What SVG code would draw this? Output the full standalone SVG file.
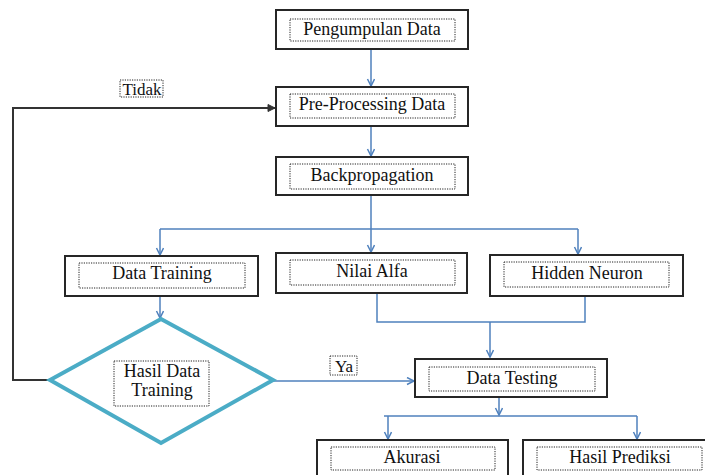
<svg xmlns="http://www.w3.org/2000/svg" width="705" height="475" viewBox="0 0 705 475">
<style>
.box{fill:#fff;stroke:#262626;stroke-width:2}
.dot{fill:none;stroke:#222;stroke-width:1;stroke-dasharray:1.2 1.2}
.blue{fill:none;stroke:#4f81bd;stroke-width:1.5}
.dark{fill:none;stroke:#333;stroke-width:2}
</style>
<defs>
<marker id="ab" markerUnits="userSpaceOnUse" markerWidth="10" markerHeight="10" refX="8" refY="4" orient="auto">
<path d="M1,0.5 L8,4 L1,7.5" fill="none" stroke="#4f81bd" stroke-width="1.5"/>
</marker>
<marker id="ad" markerUnits="userSpaceOnUse" markerWidth="10" markerHeight="10" refX="8" refY="4" orient="auto">
<path d="M1,0.5 L8,4 L1,7.5 Z" fill="#333" stroke="#333" stroke-width="1"/>
</marker>
</defs>
<rect width="705" height="475" fill="#fff"/>
<g id="connectors">
<line class="blue" x1="371" y1="49" x2="371" y2="86" marker-end="url(#ab)"/>
<line class="blue" x1="371" y1="126" x2="371" y2="156" marker-end="url(#ab)"/>
<line class="blue" x1="371" y1="195" x2="371" y2="252" marker-end="url(#ab)"/>
<line class="blue" x1="160" y1="229" x2="578" y2="229"/>
<line class="blue" x1="160" y1="229" x2="160" y2="255" marker-end="url(#ab)"/>
<line class="blue" x1="578" y1="229" x2="578" y2="254" marker-end="url(#ab)"/>
<line class="blue" x1="160" y1="296" x2="160" y2="318" marker-end="url(#ab)"/>
<path class="dark" d="M50,380 H13 V108 H275" marker-end="url(#ad)"/>
<line class="blue" x1="273" y1="381" x2="414" y2="381" marker-end="url(#ab)"/>
<path class="blue" d="M377,293 V322 H585 V296"/>
<line class="blue" x1="490" y1="322" x2="490" y2="357" marker-end="url(#ab)"/>
<line class="blue" x1="499" y1="397" x2="499" y2="415" marker-end="url(#ab)"/>
<line class="blue" x1="384" y1="416" x2="637" y2="416"/>
<line class="blue" x1="388" y1="416" x2="388" y2="439" marker-end="url(#ab)"/>
<line class="blue" x1="637" y1="416" x2="637" y2="439" marker-end="url(#ab)"/>
</g>
<g font-family="'Liberation Serif', serif" font-size="18" fill="#111" text-anchor="middle">
<g id="pengumpulan">
<rect class="box" x="276" y="10" width="192" height="39"/>
<rect class="dot" x="290" y="19" width="165" height="22"/>
<text x="372" y="35">Pengumpulan Data</text>
</g>
<g id="preprocessing">
<rect class="box" x="276" y="87" width="192" height="39"/>
<rect class="dot" x="290" y="94" width="165" height="24"/>
<text x="372" y="110">Pre-Processing Data</text>
</g>
<g id="backpropagation">
<rect class="box" x="276" y="157" width="192" height="38"/>
<rect class="dot" x="290" y="164" width="165" height="25"/>
<text x="372" y="181">Backpropagation</text>
</g>
<g id="datatraining">
<rect class="box" x="65" y="256" width="193" height="40"/>
<rect class="dot" x="79" y="263" width="166" height="25"/>
<text x="162" y="279">Data Training</text>
</g>
<g id="nilaialfa">
<rect class="box" x="276" y="253" width="191" height="40"/>
<rect class="dot" x="290" y="260" width="165" height="25"/>
<text x="372" y="277">Nilai Alfa</text>
</g>
<g id="hiddenneuron">
<rect class="box" x="490" y="255" width="193" height="41"/>
<rect class="dot" x="504" y="262" width="165" height="25"/>
<text x="587" y="279">Hidden Neuron</text>
</g>
<g id="hasildatatraining">
<polygon points="161,319 273,380 161,443 50,380" fill="#fff" stroke="#4bacc6" stroke-width="4"/>
<rect class="dot" x="114" y="361" width="95" height="45"/>
<text x="162" y="377">Hasil Data</text>
<text x="162" y="396">Training</text>
</g>
<g id="tidak">
<rect class="dot" x="120" y="80" width="43" height="17"/>
<text x="142" y="95" font-size="17">Tidak</text>
</g>
<g id="ya">
<rect class="dot" x="330" y="356" width="27" height="19"/>
<text x="344" y="372" font-size="17">Ya</text>
</g>
<g id="datatesting">
<rect class="box" x="415" y="359" width="192" height="38"/>
<rect class="dot" x="429" y="367" width="166" height="24"/>
<text x="512" y="384">Data Testing</text>
</g>
<g id="akurasi">
<rect class="box" x="317" y="440" width="191" height="44"/>
<rect class="dot" x="331" y="447" width="164" height="23"/>
<text x="412" y="463">Akurasi</text>
</g>
<g id="hasilprediksi">
<rect class="box" x="523" y="440" width="193" height="44"/>
<rect class="dot" x="537" y="447" width="165" height="23"/>
<text x="620" y="463">Hasil Prediksi</text>
</g>
</g>
</svg>
